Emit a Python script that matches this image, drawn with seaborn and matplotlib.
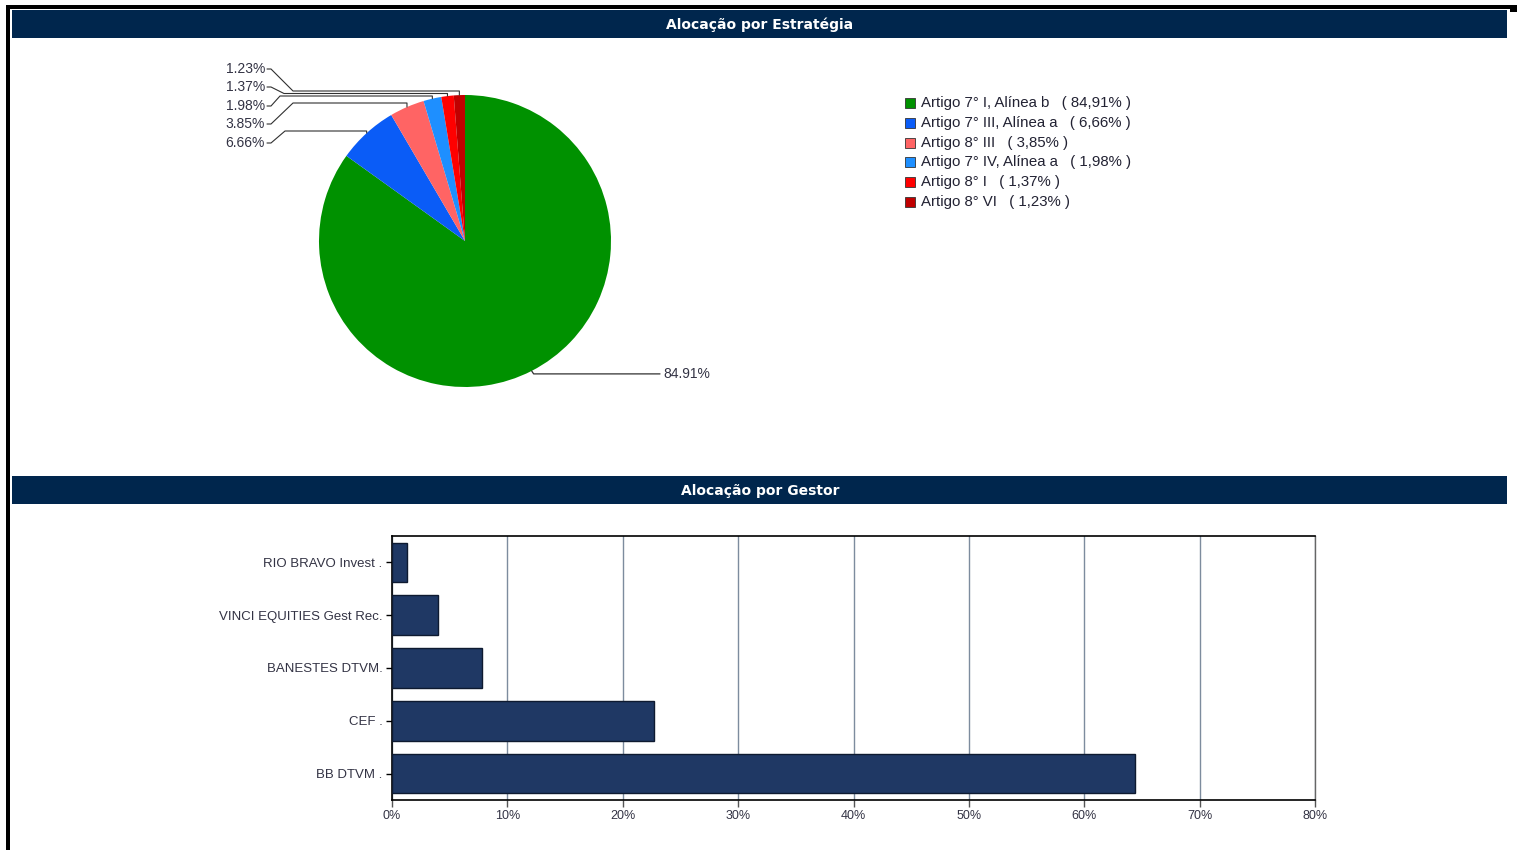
import numpy as np
import matplotlib
matplotlib.use("Agg")
import matplotlib.pyplot as plt
from matplotlib.patches import Rectangle
from matplotlib.lines import Line2D
import seaborn as sns
import pandas as pd

# ---------------- data ----------------
strategias = ["Artigo 7° I, Alínea b", "Artigo 7° III, Alínea a", "Artigo 8° III",
              "Artigo 7° IV, Alínea a", "Artigo 8° I", "Artigo 8° VI"]
estrategia_pct = [84.91, 6.66, 3.85, 1.98, 1.37, 1.23]
estrategia_cores = ["#009100", "#0A5CF7", "#FF6464", "#1E8FFF", "#FF0000", "#C00000"]

gestores = ["RIO BRAVO Invest .", "VINCI EQUITIES Gest Rec.", "BANESTES DTVM.", "CEF .", "BB DTVM ."]
gestor_pct = [1.3, 4.0, 7.8, 22.7, 64.4]
x_ticks = [0, 10, 20, 30, 40, 50, 60, 70, 80]

titulo_1 = "Alocação por Estratégia"
titulo_2 = "Alocação por Gestor"

# ---------------- style ----------------
sns.set_style("white")
plt.rcParams["font.family"] = ["Liberation Sans", "DejaVu Sans"]

W, H = 1517, 850
fig = plt.figure(figsize=(W / 100, H / 100), dpi=100)
fig.patch.set_facecolor("white")

def fx(px):
    return px / W

def fy(py):
    return 1 - py / H

NAVY = "#00264D"
# outer black frame pieces
fig.add_artist(Rectangle((fx(6), fy(9)), fx(1511), 4 / H, transform=fig.transFigure,
                         facecolor="black", edgecolor="none"))
fig.add_artist(Rectangle((fx(6), 0), fx(4), fy(6), transform=fig.transFigure,
                         facecolor="black", edgecolor="none"))
fig.add_artist(Rectangle((fx(1510), fy(12)), fx(7), 7 / H, transform=fig.transFigure,
                         facecolor="black", edgecolor="none"))
# header bands
for (top, bot, txt) in [(10, 38, titulo_1), (476, 504, titulo_2)]:
    fig.add_artist(Rectangle((fx(12), fy(bot)), fx(1507 - 12), (bot - top) / H,
                             transform=fig.transFigure, facecolor=NAVY, edgecolor="none"))
    fig.text(fx(760), fy((top + bot) / 2 + 0.5), txt, color="white", fontsize=10,
             fontweight="bold", ha="center", va="center", family="DejaVu Sans")

# ---------------- pie ----------------
L, R, T, B = 200, 760, 50, 460
cx, cy, rad = 465, 241, 146
axp = fig.add_axes([fx(L), fy(B), fx(R - L), (B - T) / H])
wedges, _ = axp.pie(estrategia_pct, colors=estrategia_cores, startangle=90,
                    counterclock=False, radius=rad, center=(0, 0),
                    wedgeprops=dict(linewidth=0))
axp.set_xlim(L - cx, R - cx)
axp.set_ylim(cy - B, cy - T)
axp.set_aspect("auto")
axp.axis("off")

lc = "#303030"
# small slices: label y (px), elbow horizontal y (px), elbow x (px)
label_y = {1: 143, 2: 124, 3: 106, 4: 87, 5: 69}
elbow_y = {1: 131, 2: 103, 3: 96, 4: 93.5, 5: 91}
elbow_x = {1: 285, 2: 293, 3: 280, 4: 284, 5: 293}
for i, w in enumerate(wedges):
    th = np.deg2rad((w.theta1 + w.theta2) / 2)
    ex, ey = rad * np.cos(th), rad * np.sin(th)
    txt = f"{estrategia_pct[i]:.2f}%"
    if i == 0:
        y_lab = cy - (ey) + 3
        xs = [ex, ex + 2, 660 - cx]
        ys = [ey, cy - y_lab, cy - y_lab]
        axp.add_line(Line2D(xs, ys, color=lc, lw=0.9, clip_on=False))
        axp.text(663 - cx, cy - y_lab, txt, ha="left", va="center", fontsize=10,
                 color="#333344", clip_on=False)
    else:
        ly = label_y[i]
        hy = cy - elbow_y[i]
        xs = [ex, ex, elbow_x[i] - cx, 271 - cx, 267 - cx]
        ys = [ey, hy, hy, cy - ly, cy - ly]
        axp.add_line(Line2D(xs, ys, color=lc, lw=0.8, clip_on=False))
        axp.text(265 - cx, cy - ly, txt, ha="right", va="center", fontsize=10,
                 color="#333344", clip_on=False)

# legend
leg_x, leg_y0, leg_dy = 905, 103, 19.8
for i, name in enumerate(strategias):
    yy = leg_y0 + i * leg_dy
    fig.add_artist(Rectangle((fx(leg_x), fy(yy + 5)), 10 / W, 10 / H, transform=fig.transFigure,
                             facecolor=estrategia_cores[i], edgecolor="#333333", lw=0.6))
    pct = f"{estrategia_pct[i]:.2f}".replace(".", ",")
    fig.text(fx(921), fy(yy), f"{name}   ( {pct}% )", fontsize=10.8, color="#222233",
             ha="left", va="center")

# ---------------- bars ----------------
axb = fig.add_axes([fx(392), fy(800), fx(1315 - 392), (800 - 536) / H])
df = pd.DataFrame({"gestor": gestores, "pct": gestor_pct})
sns.barplot(data=df, x="pct", y="gestor", orient="h", color="#1F3864", saturation=1,
            width=0.75, edgecolor="#0E1A30", linewidth=1.0, ax=axb, zorder=3)
axb.set_xlim(0, 80)
axb.set_ylim(4.5, -0.5)
axb.set_xticks(x_ticks)
axb.set_xticklabels([f"{t}%" for t in x_ticks], fontsize=9, color="#333344")
axb.tick_params(axis="y", labelsize=9.5, labelcolor="#333344", length=4, width=1, left=True,
                color="black", pad=3)
axb.tick_params(axis="x", length=5, width=1, bottom=True, color="#555555", pad=2)
axb.set_xlabel("")
axb.set_ylabel("")
axb.grid(axis="x", color="#7D8C9E", lw=1, zorder=0)
axb.grid(axis="y", visible=False)
for s in ["left", "top", "bottom"]:
    axb.spines[s].set_color("black")
    axb.spines[s].set_linewidth(1.2)
axb.spines["right"].set_color("#666666")
axb.spines["right"].set_linewidth(1)

fig.savefig("out.png", dpi=100)
